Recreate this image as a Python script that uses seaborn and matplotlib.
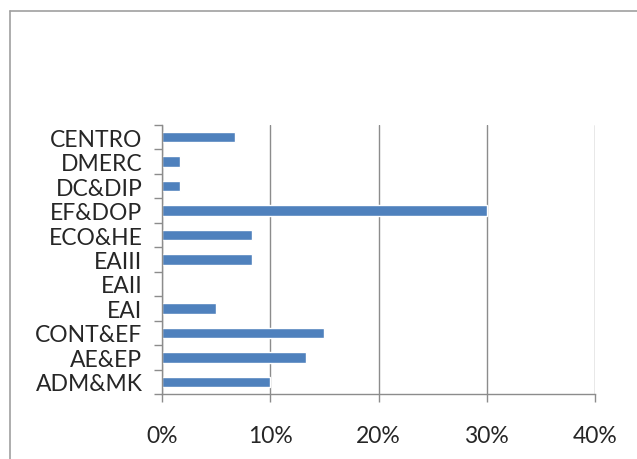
import numpy as np
import pandas as pd
import matplotlib
matplotlib.use("Agg")
import matplotlib.pyplot as plt
from matplotlib.lines import Line2D
from matplotlib.ticker import PercentFormatter, FixedLocator
import seaborn as sns

# data, listed top to bottom as drawn
categories = ["CENTRO", "DMERC", "DC&DIP", "EF&DOP", "ECO&HE", "EAIII",
              "EAII", "EAI", "CONT&EF", "AE&EP", "ADM&MK"]
shares = [6.7, 1.7, 1.7, 30.0, 8.3, 8.3, 0.0, 5.0, 15.0, 13.3, 10.0]
x_ticks = [0, 10, 20, 30, 40]

df = pd.DataFrame({"Departamento": categories, "Porcentaje": shares})

sns.set_style("white")
plt.rcParams['font.family'] = ['Lato', 'DejaVu Sans']

fig = plt.figure(figsize=(6.37, 4.60), dpi=100)
ax = fig.add_axes([162 / 637, 1 - 395 / 460, (595 - 162) / 637, (395 - 126) / 460])

sns.barplot(data=df, x="Porcentaje", y="Departamento", order=categories,
            color="#4F81BD", saturation=1, width=0.43, ax=ax, orient="h")

ax.set_xlim(0, 40)
ax.set_ylim(len(categories) - 0.5, -0.5)
ax.set_xlabel("")
ax.set_ylabel("")

grid_color = "#8C8C8C"
ax.xaxis.set_major_locator(FixedLocator(x_ticks))
ax.xaxis.set_major_formatter(PercentFormatter(decimals=0))
ax.grid(axis="x", color=grid_color, linewidth=1)
ax.set_axisbelow(True)

# category boundary ticks on the y axis
ax.yaxis.set_minor_locator(FixedLocator(np.arange(-0.5, len(categories), 1.0)))
ax.tick_params(axis="y", which="major", length=0, pad=14, labelsize=16.5)
ax.tick_params(axis="y", which="minor", length=6, width=1, color=grid_color, left=True)
ax.tick_params(axis="x", which="major", length=6, width=1, color=grid_color,
               bottom=True, pad=16, labelsize=16.5)

for side in ["top", "right"]:
    ax.spines[side].set_visible(False)
for side in ["left", "bottom"]:
    ax.spines[side].set_color(grid_color)
    ax.spines[side].set_linewidth(1)

# chart area frame (only top and left edges are visible)
fig.add_artist(Line2D([10 / 637, 1], [1 - 12 / 460, 1 - 12 / 460],
                      transform=fig.transFigure, color="#A0A0A0", linewidth=1.2))
fig.add_artist(Line2D([10 / 637, 10 / 637], [0, 1 - 12 / 460],
                      transform=fig.transFigure, color="#A0A0A0", linewidth=1.2))

fig.savefig("out.png", dpi=100)
